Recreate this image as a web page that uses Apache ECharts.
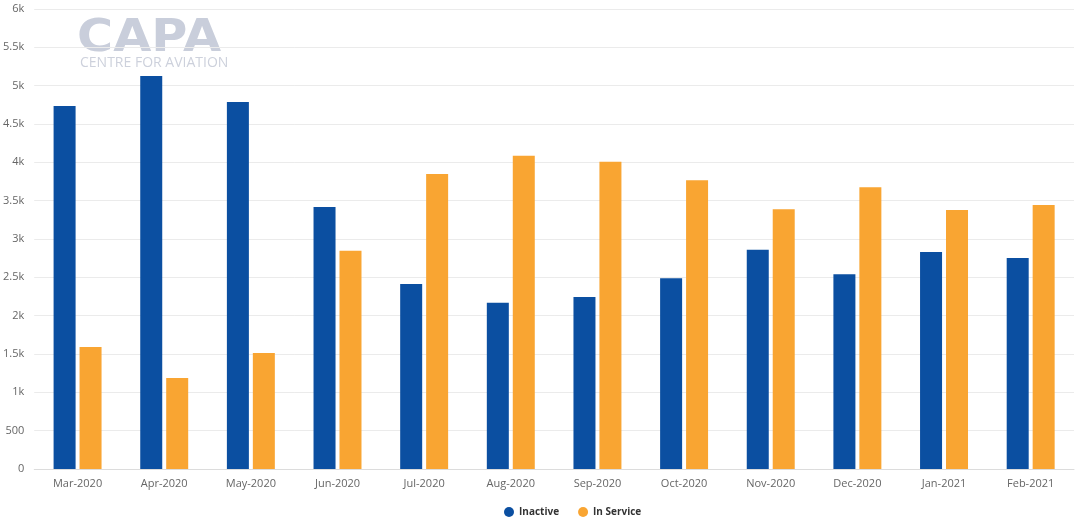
<!DOCTYPE html>
<html>
<head>
<meta charset="utf-8">
<script src="https://cdn.jsdelivr.net/npm/echarts@6/dist/echarts.min.js"></script>
<style>
  html, body { margin: 0; padding: 0; background: #fff; }
  #chart { width: 1080px; height: 526px; }
</style>
</head>
<body>
<div id="chart"></div>
<script>
const months = ['Mar-2020', 'Apr-2020', 'May-2020', 'Jun-2020', 'Jul-2020', 'Aug-2020',
    'Sep-2020', 'Oct-2020', 'Nov-2020', 'Dec-2020', 'Jan-2021', 'Feb-2021']
const inactive = [4735, 5126, 4787, 3417, 2413, 2169, 2243, 2487, 2861, 2539, 2830, 2752]
const inService = [1591, 1187, 1513, 2848, 3848, 4087, 4008, 3766, 3387, 3674, 3378, 3443]

const chart = echarts.init(document.getElementById('chart'))
const font = "'Open Sans', 'Noto Sans', sans-serif"

chart.setOption({
    animation: false,
    textStyle: { fontFamily: font },
    grid: { left: 33.5, right: 6, top: 9, bottom: 57, containLabel: false },
    // CAPA watermark
    graphic: [
        {
            type: 'text', x: 77, y: 18, z: 0, scaleX: 1.12,
            style: { text: 'CAPA', font: "bold 44px 'DejaVu Sans', sans-serif", fill: '#c9cedb' },
        },
        {
            type: 'text', x: 80, y: 56, z: 0,
            style: { text: 'CENTRE FOR AVIATION', font: "14px 'Open Sans', sans-serif", fill: '#cdd1dc' },
        },
    ],
    legend: {
        top: 502,
        left: 499,
        icon: 'circle',
        itemWidth: 10,
        itemHeight: 10,
        itemGap: 19,
        textStyle: { color: '#333', fontSize: 10, fontWeight: 'bold', fontFamily: font },
        data: ['Inactive', 'In Service'],
    },
    xAxis: {
        type: 'category',
        data: months,
        axisTick: { show: false },
        axisLine: { lineStyle: { color: '#dcdcdc' } },
        axisLabel: { color: '#666', fontSize: 11, margin: 9 },
    },
    yAxis: {
        type: 'value',
        min: 0,
        max: 6000,
        interval: 500,
        axisLine: { show: false },
        axisTick: { show: false },
        splitLine: { lineStyle: { color: '#ebebeb' } },
        axisLabel: {
            color: '#666',
            fontSize: 11,
            margin: 10,
            formatter: v => (v >= 1000 ? v / 1000 + 'k' : String(v)),
        },
    },
    series: [
        {
            name: 'Inactive',
            type: 'bar',
            data: inactive,
            barWidth: 22,
            barGap: '18%',
            itemStyle: { color: '#0b4fa1' },
        },
        {
            name: 'In Service',
            type: 'bar',
            data: inService,
            barWidth: 22,
            itemStyle: { color: '#f9a532' },
        },
    ],
})
</script>
</body>
</html>
